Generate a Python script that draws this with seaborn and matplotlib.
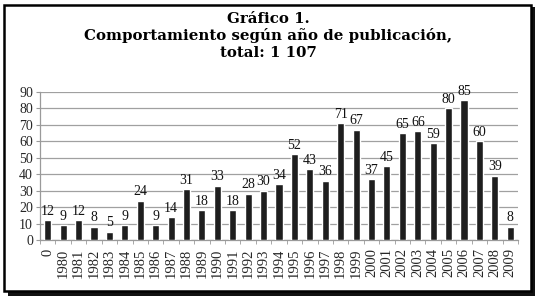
import matplotlib
matplotlib.use("Agg")
import matplotlib.pyplot as plt
import seaborn as sns
import pandas as pd
from matplotlib.patches import Rectangle

# Datos del gráfico
anios = ['0', '1980', '1981', '1982', '1983', '1984', '1985', '1986', '1987', '1988',
         '1989', '1990', '1991', '1992', '1993', '1994', '1995', '1996', '1997', '1998',
         '1999', '2000', '2001', '2002', '2003', '2004', '2005', '2006', '2007', '2008', '2009']
publicaciones = [12, 9, 12, 8, 5, 9, 24, 9, 14, 31, 18, 33, 18, 28, 30, 34, 52, 43, 36, 71,
                 67, 37, 45, 65, 66, 59, 80, 85, 60, 39, 8]
titulo = ['Gráfico 1.', 'Comportamiento según año de publicación,', 'total: 1 107']

df = pd.DataFrame({'anio': anios, 'n': publicaciones})

sns.set_style("white")
plt.rcParams['font.family'] = ['Liberation Serif', 'DejaVu Serif']

W, H = 537, 297
fig = plt.figure(figsize=(W / 100, H / 100), dpi=100)
ax = fig.add_axes([40 / W, 1 - 240 / H, 478 / W, 148 / H])

sns.barplot(data=df, x='anio', y='n', color='#1e1e1e', width=0.46, ax=ax,
            saturation=1, zorder=3)

# Etiquetas de valores
for i, v in enumerate(publicaciones):
    ax.text(i, v + 1.5, str(v), ha='center', va='bottom', fontsize=10, color='#111111')

ax.set_ylim(0, 90)
ax.set_xlim(-0.5, len(anios) - 0.5)
ax.set_yticks(range(0, 91, 10))
ax.yaxis.grid(True, color='#a0a0a0', linewidth=0.9, zorder=0)
ax.set_xlabel('')
ax.set_ylabel('')
for s in ['top', 'right']:
    ax.spines[s].set_visible(False)
for s in ['left', 'bottom']:
    ax.spines[s].set_color('#9a9a9a')
    ax.spines[s].set_linewidth(0.9)
ax.tick_params(axis='y', labelsize=10, length=3, color='#9a9a9a', pad=2, direction='out', left=True)
ax.tick_params(axis='x', labelsize=10.5, length=0, pad=6, rotation=90)
# marcas entre categorías
ax.set_xticks([i + 0.5 for i in range(-1, len(anios))], minor=True)
ax.tick_params(axis='x', which='minor', length=3, color='#9a9a9a', bottom=True)

# Título
ys = [0.936, 0.879, 0.822]
for t, y in zip(titulo, ys):
    fig.text(0.5, y, t, ha='center', va='center', fontsize=10.8, fontweight='bold',
             family=['DejaVu Serif'], color='black')

# Marco con sombra (derecha y abajo)
fig.patches.append(Rectangle((8 / W, 1 - 296 / H), 527 / W, 289 / H, transform=fig.transFigure,
                             facecolor='#111111', edgecolor='none', zorder=-2))
fig.patches.append(Rectangle((4 / W, 1 - 291 / H), 527 / W, 286 / H, transform=fig.transFigure,
                             facecolor='white', edgecolor='black', linewidth=1.8, zorder=-1))

fig.savefig('out.png', dpi=100)
